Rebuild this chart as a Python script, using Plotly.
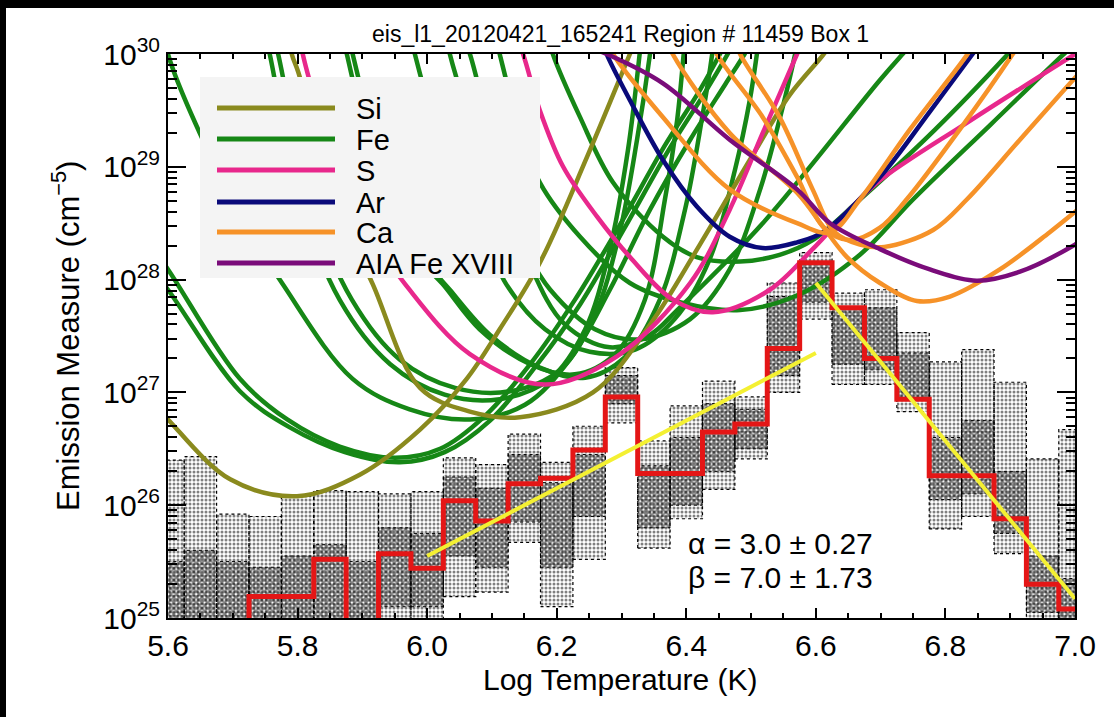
import plotly.graph_objects as go

# ---------------------------------------------------------------- data
# temperature bins (bin centres, log T)
log_t_bins = [5.60, 5.65, 5.70, 5.75, 5.80, 5.85, 5.90, 5.95, 6.00, 6.05,
              6.10, 6.15, 6.20, 6.25, 6.30, 6.35, 6.40, 6.45, 6.50, 6.55,
              6.60, 6.65, 6.70, 6.75, 6.80, 6.85, 6.90, 6.95, 7.00]

# best-fit DEM (log EM); bins below the plotted range are set very low
best_fit_log_em = [20.0, 20.0, 20.0, 25.19, 25.19, 25.52, 20.0, 25.57, 25.44, 26.04,
                   25.86, 26.19, 26.24, 26.49, 26.96, 26.28, 26.28, 26.65, 26.72, 27.39,
                   28.15, 27.75, 27.30, 26.94, 26.26, 26.26, 25.88, 25.30, 25.08]

# spread of the Monte-Carlo solutions per bin (log EM)
mc_log_em_hi = [26.40, 26.43, 25.92, 25.90, 26.08, 26.13, 26.12, 26.10, 26.12, 26.42,
                26.36, 26.63, 26.38, 26.70, 27.22, 26.57, 26.88, 27.10, 26.96, 27.97,
                28.24, 27.88, 27.91, 27.53, 27.27, 27.38, 27.09, 26.41, 26.67]
mc_log_em_lo = [24.90, 24.90, 24.90, 24.90, 24.90, 24.90, 24.90, 24.90, 24.90, 25.19,
                25.23, 25.67, 25.10, 25.52, 26.73, 25.62, 25.88, 26.14, 26.41, 27.00,
                27.65, 27.07, 27.07, 26.83, 25.79, 25.90, 25.57, 24.90, 24.90]
# densest part of the Monte-Carlo solutions per bin (log EM)
mc_core_hi = [25.50, 25.60, 25.50, 25.45, 25.55, 25.65, 25.50, 25.80, 25.75, 26.25,
              26.15, 26.45, 26.20, 26.45, 27.15, 26.35, 26.60, 26.90, 26.85, 27.85,
              28.15, 27.75, 27.75, 27.35, 26.60, 26.75, 26.30, 25.55, 25.35]
mc_core_lo = [24.90, 24.90, 24.90, 24.90, 24.90, 24.90, 24.90, 25.10, 25.10, 25.55,
              25.45, 25.85, 25.45, 25.90, 26.90, 25.80, 26.00, 26.30, 26.50, 27.15,
              27.80, 27.25, 27.20, 26.95, 26.05, 26.10, 25.75, 25.05, 24.90]

# power-law fits: log EM ~ alpha*log T (cool side), -beta*log T (hot side)
alpha, alpha_err = 3.0, 0.27
beta, beta_err = 7.0, 1.73
alpha_t_range = [6.0, 6.6]
alpha_em_start = 25.55
beta_t_range = [6.6, 7.0]
beta_em_start = 27.97

# EM loci curves, (log T, log EM) pairs per line
si_loci = [
    ([5.572, 5.600, 5.696, 5.799, 5.896, 5.989, 6.061, 6.112, 6.174, 6.247, 6.313, 6.328],
     [26.94, 26.76, 26.23, 26.08, 26.27, 26.67, 27.12, 27.56, 28.15, 29.09, 30.00, 30.21]),
    ([5.782, 5.791, 5.801, 5.858, 5.916, 5.989, 6.066, 6.143, 6.256, 6.344, 6.421, 6.498, 6.560, 6.611, 6.622],
     [30.30, 30.00, 29.84, 28.71, 27.96, 27.04, 26.83, 26.78, 27.00, 27.60, 28.31, 29.06, 29.64, 29.99, 30.08]),
]
fe_loci = [
    ([5.580, 5.600, 5.649, 5.711, 5.777, 5.885, 5.973, 6.066, 6.151, 6.220, 6.282, 6.344, 6.406, 6.460, 6.490, 6.506],
     [30.65, 30.00, 29.30, 28.58, 27.96, 27.12, 26.85, 26.76, 26.89, 27.29, 27.91, 28.62, 29.24, 29.73, 30.00, 30.17]),
    ([5.572, 5.600, 5.711, 5.784, 5.865, 5.950, 6.020, 6.089, 6.159, 6.228, 6.298, 6.367, 6.421, 6.452, 6.467],
     [28.31, 28.09, 27.12, 26.76, 26.52, 26.42, 26.50, 26.79, 27.25, 27.82, 28.49, 29.19, 29.68, 30.00, 30.17]),
    ([5.572, 5.600, 5.711, 5.788, 5.873, 5.958, 6.027, 6.097, 6.166, 6.236, 6.305, 6.375, 6.429, 6.464, 6.480],
     [28.11, 27.91, 27.01, 26.69, 26.47, 26.38, 26.47, 26.75, 27.22, 27.78, 28.46, 29.17, 29.66, 30.00, 30.17]),
    ([5.745, 5.757, 5.804, 5.865, 5.943, 6.027, 6.112, 6.190, 6.244, 6.282, 6.310, 6.328, 6.333],
     [30.30, 30.00, 28.71, 27.82, 27.25, 26.98, 26.94, 27.12, 27.56, 28.27, 29.15, 30.00, 30.30]),
    ([5.757, 5.770, 5.819, 5.884, 5.958, 6.043, 6.128, 6.205, 6.259, 6.298, 6.324, 6.344, 6.350],
     [30.30, 30.00, 28.71, 27.82, 27.29, 27.04, 27.01, 27.20, 27.69, 28.44, 29.24, 30.00, 30.30]),
    ([5.865, 5.876, 5.927, 5.989, 6.024, 6.081, 6.159, 6.228, 6.290, 6.336, 6.367, 6.386, 6.396, 6.401],
     [30.30, 30.00, 28.88, 28.18, 27.96, 27.56, 27.25, 27.16, 27.34, 27.82, 28.71, 29.42, 30.00, 30.30]),
    ([5.875, 5.885, 5.940, 6.004, 6.035, 6.097, 6.174, 6.244, 6.305, 6.359, 6.398, 6.424, 6.440, 6.446],
     [30.30, 30.00, 28.88, 28.13, 27.91, 27.51, 27.22, 27.13, 27.31, 27.82, 28.62, 29.42, 30.00, 30.30]),
    ([5.970, 5.981, 6.035, 6.097, 6.122, 6.182, 6.251, 6.321, 6.382, 6.436, 6.475, 6.498, 6.509, 6.514],
     [30.30, 30.00, 28.97, 28.27, 27.96, 27.56, 27.36, 27.38, 27.65, 28.18, 28.97, 29.59, 30.00, 30.21]),
    ([6.026, 6.035, 6.089, 6.151, 6.190, 6.259, 6.328, 6.406, 6.467, 6.514, 6.544, 6.568, 6.575],
     [30.30, 30.00, 29.06, 28.27, 27.91, 27.56, 27.47, 27.65, 28.09, 28.80, 29.42, 30.00, 30.21]),
    ([6.054, 6.066, 6.112, 6.159, 6.213, 6.282, 6.344, 6.386, 6.518, 6.699, 6.734, 6.753],
     [30.17, 30.00, 28.97, 28.13, 27.60, 27.40, 27.51, 27.73, 28.50, 29.77, 30.00, 30.12]),
    ([6.186, 6.194, 6.236, 6.287, 6.364, 6.416, 6.483, 6.544, 6.595, 6.668, 6.784, 6.895, 6.923],
     [30.17, 30.00, 29.44, 28.86, 28.38, 28.20, 28.16, 28.22, 28.35, 28.71, 29.33, 29.99, 30.17]),
    ([6.105, 6.112, 6.143, 6.174, 6.236, 6.313, 6.390, 6.483, 6.575, 6.668, 6.750, 6.869, 6.981, 7.015],
     [30.17, 30.00, 29.33, 28.86, 28.38, 27.97, 27.80, 27.73, 27.87, 28.22, 28.71, 29.37, 29.99, 30.17]),
]
s_loci = [
    ([5.801, 5.808, 5.865, 5.919, 5.966, 6.066, 6.182, 6.293, 6.406, 6.467, 6.518, 6.571, 6.583],
     [30.30, 30.00, 28.97, 28.35, 27.96, 27.34, 27.07, 27.32, 27.97, 28.62, 29.30, 30.00, 30.17]),
    ([6.136, 6.148, 6.174, 6.210, 6.262, 6.313, 6.380, 6.441, 6.529, 6.595, 6.652, 6.699, 6.833, 6.992, 7.023],
     [30.17, 30.00, 29.50, 29.00, 28.56, 28.20, 27.82, 27.71, 27.91, 28.27, 28.62, 28.88, 29.39, 29.97, 30.08]),
]
ar_loci = [
    ([6.267, 6.277, 6.313, 6.364, 6.416, 6.467, 6.518, 6.571, 6.611, 6.699, 6.776, 6.842, 6.869],
     [30.17, 30.00, 29.59, 29.06, 28.65, 28.38, 28.28, 28.33, 28.42, 28.91, 29.49, 30.00, 30.21]),
]
ca_loci = [
    ([6.274, 6.287, 6.364, 6.467, 6.571, 6.622, 6.668, 6.745, 6.833, 6.853],
     [30.17, 30.00, 29.44, 28.80, 28.50, 28.42, 28.71, 29.33, 29.99, 30.17]),
    ([6.367, 6.379, 6.467, 6.571, 6.611, 6.648, 6.699, 6.756, 6.807, 6.884, 6.961, 7.000, 7.023],
     [30.17, 30.00, 29.30, 28.77, 28.47, 28.20, 27.97, 27.81, 27.85, 28.09, 28.42, 28.60, 28.71]),
    ([6.436, 6.447, 6.518, 6.571, 6.611, 6.652, 6.699, 6.740, 6.822, 6.904, 6.923],
     [30.17, 30.00, 29.44, 28.91, 28.47, 28.35, 28.46, 28.71, 29.33, 30.00, 30.17]),
    ([6.472, 6.483, 6.544, 6.595, 6.629, 6.668, 6.706, 6.781, 6.833, 6.915, 6.997, 7.023],
     [30.17, 30.00, 29.44, 28.80, 28.42, 28.31, 28.29, 28.44, 28.71, 29.24, 29.77, 29.93]),
]
aia_loci = [
    ([6.220, 6.277, 6.364, 6.467, 6.571, 6.622, 6.699, 6.776, 6.848, 6.915, 7.000, 7.023],
     [30.12, 30.00, 29.74, 29.24, 28.80, 28.50, 28.27, 28.09, 27.99, 28.07, 28.31, 28.40]),
]

species = ["Si", "Fe", "S", "Ar", "Ca", "AIA Fe XVIII"]
species_colors = ["rgb(138,138,30)", "rgb(22,135,22)", "rgb(232,40,140)",
                  "rgb(10,10,122)", "rgb(246,146,40)", "rgb(122,12,122)"]
species_loci = [si_loci, fe_loci, s_loci, ar_loci, ca_loci, aia_loci]
draw_order = [1, 0, 2, 3, 4, 5]

# ---------------------------------------------------------------- figure
FONT = "Liberation Sans, Arial, Helvetica, sans-serif"
HALF = 0.025  # half bin width in log T


def lin(v):
    return 10.0 ** v


fig = go.Figure()


def bin_boxes(lo_vals, hi_vals):
    xs, ys = [], []
    for c, lo, hi in zip(log_t_bins, lo_vals, hi_vals):
        xs += [c - HALF, c + HALF, c + HALF, c - HALF, c - HALF, None]
        ys += [lin(lo), lin(lo), lin(hi), lin(hi), lin(lo), None]
    return xs, ys


# Monte-Carlo solution clouds: full spread (sparse dots) and dense core
ex, ey = bin_boxes(mc_log_em_lo, mc_log_em_hi)
fig.add_trace(go.Scatter(
    x=ex, y=ey, mode="lines", fill="toself", fillcolor="rgba(0,0,0,0)",
    fillpattern=dict(shape=".", fgcolor="black", bgcolor="white", size=4, solidity=0.45),
    line=dict(color="black", width=1.2, dash="dot"), showlegend=False, hoverinfo="skip"))
cx, cy = bin_boxes(mc_core_lo, mc_core_hi)
fig.add_trace(go.Scatter(
    x=cx, y=cy, mode="lines", fill="toself", fillcolor="rgba(0,0,0,0)",
    fillpattern=dict(shape="x", fgcolor="black", bgcolor="rgba(0,0,0,0)", size=4, solidity=0.7),
    line=dict(color="black", width=1, dash="dot"), showlegend=False, hoverinfo="skip"))

# EM loci curves
for k in draw_order:
    for t_vals, em_vals in species_loci[k]:
        fig.add_trace(go.Scatter(
            x=t_vals, y=[lin(v) for v in em_vals], mode="lines",
            line=dict(color=species_colors[k], width=4.5, shape="spline", smoothing=1.0),
            showlegend=False, hoverinfo="skip"))

# best-fit DEM histogram
sx, sy = [], []
for c, v in zip(log_t_bins, best_fit_log_em):
    sx += [c - HALF, c + HALF]
    sy += [lin(v), lin(v)]
fig.add_trace(go.Scatter(x=sx, y=sy, mode="lines",
                         line=dict(color="rgb(228,22,22)", width=5),
                         showlegend=False, hoverinfo="skip"))

# power-law fits
a_em = [lin(alpha_em_start + alpha * (t - alpha_t_range[0])) for t in alpha_t_range]
b_em = [lin(beta_em_start - beta * (t - beta_t_range[0])) for t in beta_t_range]
for t_vals, em_vals in [(alpha_t_range, a_em), (beta_t_range, b_em)]:
    fig.add_trace(go.Scatter(x=t_vals, y=em_vals, mode="lines",
                             line=dict(color="rgb(244,240,50)", width=4),
                             showlegend=False, hoverinfo="skip"))

# ---------------------------------------------------------------- layout
W, H = 1114, 717
L, R, T, B = 168, 39, 54, 99
PW, PH = W - L - R, H - T - B


def px(x):
    return (x - L) / PW


def py(y):
    return (H - B - y) / PH


shapes = [
    # dark frame on left and top edge
    dict(type="rect", xref="paper", yref="paper", x0=px(0), x1=px(6), y0=py(H), y1=py(0),
         fillcolor="black", line=dict(width=0), layer="above"),
    dict(type="rect", xref="paper", yref="paper", x0=px(0), x1=px(W), y0=py(8), y1=py(0),
         fillcolor="black", line=dict(width=0), layer="above"),
    # legend panel
    dict(type="rect", xref="paper", yref="paper", x0=px(200), x1=px(540), y0=py(278), y1=py(77),
         fillcolor="rgb(244,244,244)", line=dict(width=0), layer="above"),
]
annotations = []
row_y = [108, 139, 170, 202, 232, 263]
for name, col, yy in zip(species, species_colors, row_y):
    shapes.append(dict(type="line", xref="paper", yref="paper", x0=px(217), x1=px(335),
                       y0=py(yy), y1=py(yy), line=dict(color=col, width=5), layer="above"))
    annotations.append(dict(xref="paper", yref="paper", x=px(354), y=py(yy + 1), text=name,
                            showarrow=False, xanchor="left", yanchor="middle",
                            font=dict(family=FONT, size=29, color="black")))

annotations += [
    dict(xref="paper", yref="paper", x=px(620), y=py(34),
         text="eis_l1_20120421_165241 Region # 11459 Box 1", showarrow=False,
         xanchor="center", yanchor="middle", font=dict(family=FONT, size=23, color="black")),
    dict(xref="paper", yref="paper", x=px(620), y=py(679), text="Log Temperature (K)",
         showarrow=False, xanchor="center", yanchor="middle",
         font=dict(family=FONT, size=30, color="black")),
    dict(xref="paper", yref="paper", x=px(66), y=py(336),
         text="Emission Measure (cm<sup>\u22125</sup>)", textangle=-90, showarrow=False,
         xanchor="center", yanchor="middle", font=dict(family=FONT, size=31, color="black")),
    dict(xref="paper", yref="paper", x=px(686), y=py(543),
         text=f"\u03b1 = {alpha:.1f} \u00b1 {alpha_err:.2f}", showarrow=False,
         xanchor="left", yanchor="middle", font=dict(family=FONT, size=30, color="black")),
    dict(xref="paper", yref="paper", x=px(686), y=py(577),
         text=f"\u03b2 = {beta:.1f} \u00b1 {beta_err:.2f}", showarrow=False,
         xanchor="left", yanchor="middle", font=dict(family=FONT, size=30, color="black")),
]

x_ticks = [5.6, 5.8, 6.0, 6.2, 6.4, 6.6, 6.8, 7.0]
y_ticks = [25, 26, 27, 28, 29, 30]

fig.update_layout(
    width=W, height=H, margin=dict(l=L, r=R, t=T, b=B, autoexpand=False),
    paper_bgcolor="white", plot_bgcolor="white", showlegend=False,
    font=dict(family=FONT, size=30, color="black"),
    shapes=shapes, annotations=annotations,
    xaxis=dict(range=[5.6, 7.0], tickmode="array", tickvals=x_ticks,
               ticktext=[f"{v:.1f}" for v in x_ticks],
               ticks="inside", ticklen=10, tickwidth=2, tickcolor="black",
               showline=True, linewidth=2, linecolor="black", mirror="ticks",
               showgrid=False, zeroline=False,
               minor=dict(ticks="inside", ticklen=5, tickwidth=1.5, tickcolor="black",
                          tick0=5.6, dtick=0.05, showgrid=False),
               tickfont=dict(family=FONT, size=30, color="black")),
    yaxis=dict(type="log", range=[25, 30], tickmode="array",
               tickvals=[lin(v) for v in y_ticks],
               ticktext=[f"10<sup>{v}</sup>" for v in y_ticks],
               ticks="inside", ticklen=18, tickwidth=2, tickcolor="black",
               showline=True, linewidth=2, linecolor="black", mirror="ticks",
               showgrid=False, zeroline=False,
               minor=dict(ticks="inside", ticklen=9, tickwidth=1.5, tickcolor="black",
                          dtick="D1", showgrid=False),
               tickfont=dict(family=FONT, size=30, color="black")),
)

fig.write_html("out.html")
